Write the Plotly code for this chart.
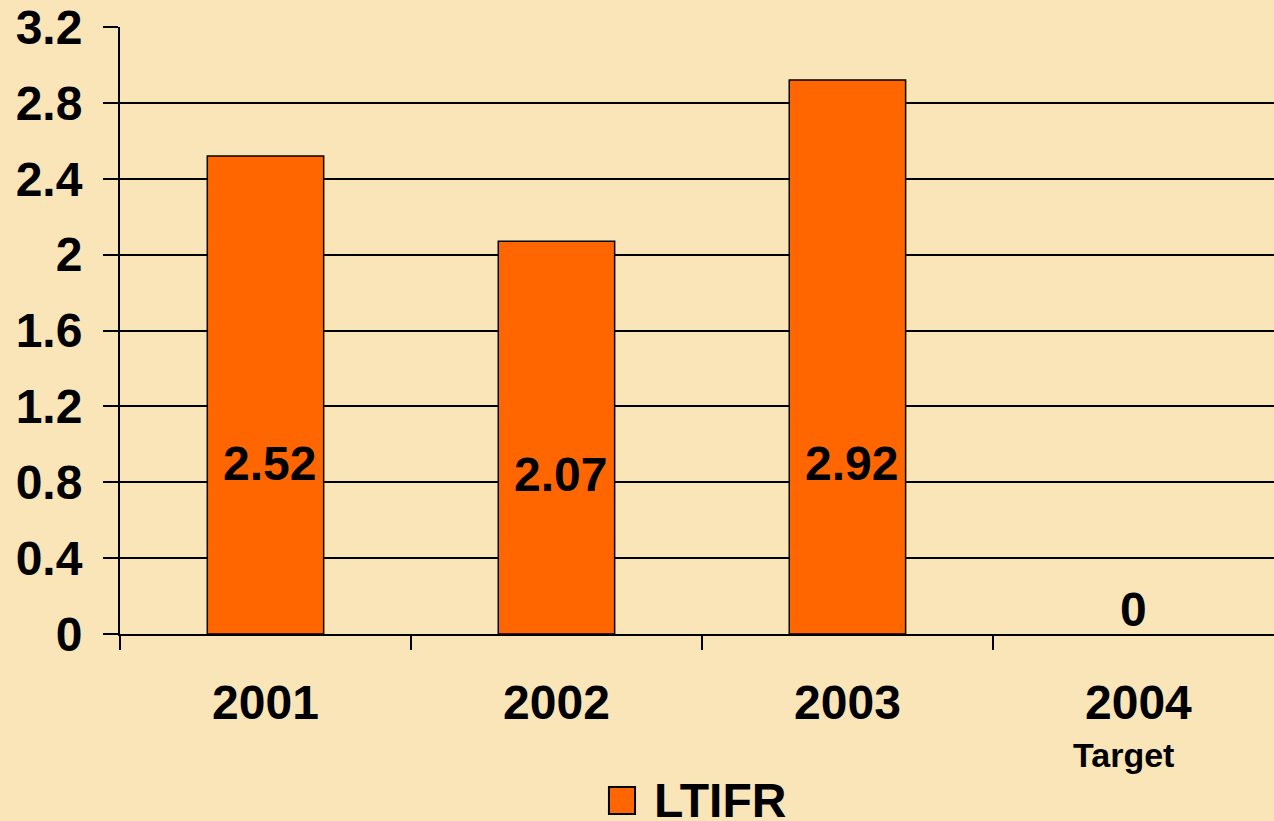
import plotly.graph_objects as go

# ── data ──────────────────────────────────────────────
years = ["2001", "2002", "2003", "2004"]
ltifr = [2.52, 2.07, 2.92, 0]
y_ticks = [0, 0.4, 0.8, 1.2, 1.6, 2, 2.4, 2.8, 3.2]
y_tick_text = ["0", "0.4", "0.8", "1.2", "1.6", "2", "2.4", "2.8", "3.2"]
series_name = "LTIFR"

# ── style ─────────────────────────────────────────────
BG = "#F9E5B8"
ORANGE = "#FF6600"
FONT = "Liberation Sans, Arial, sans-serif"
# where the value labels sit (data units + small x nudge), as in the original slide
label_y = [0.90, 0.84, 0.90, 0.13]
label_dx = [4, 4, 4, -5]

fig = go.Figure()

fig.add_trace(go.Bar(
    x=years, y=ltifr,
    width=0.4,
    marker=dict(
        color=ORANGE,
        # no outline on an empty bar, it would just be a stray line on the axis
        line=dict(color="black", width=[1.5 if v else 0 for v in ltifr]),
    ),
    name=series_name,
    showlegend=False,
))

# value labels (category axis -> use the category index for x)
for i, (v, ly, dx) in enumerate(zip(ltifr, label_y, label_dx)):
    fig.add_annotation(
        x=i, y=ly, text=f"{v:g}",
        showarrow=False, xshift=dx,
        font=dict(family=FONT, size=48, color="black", weight="bold"),
    )

# "Target" under the 2004 tick
fig.add_annotation(
    x=len(years) - 1, y=-0.199, yref="paper", text="Target", xshift=-15,
    showarrow=False, yanchor="middle",
    font=dict(family=FONT, size=34, color="black", weight="bold"),
)

# hand-made legend (big square + label)
fig.add_shape(
    type="rect", xref="paper", yref="paper",
    x0=0.4237, x1=0.4463, y0=-0.2965, y1=-0.252,
    fillcolor=ORANGE, line=dict(color="black", width=2),
)
fig.add_annotation(
    x=0.461, y=-0.2735, xref="paper", yref="paper",
    text=series_name, showarrow=False, xanchor="left", yanchor="middle",
    font=dict(family=FONT, size=48, color="black", weight="bold"),
)

fig.update_layout(
    width=1274, height=821,
    margin=dict(l=120, r=0, t=27, b=187),
    paper_bgcolor=BG, plot_bgcolor=BG,
    showlegend=False,
    font=dict(family=FONT, size=48, color="black", weight="bold"),
    xaxis=dict(
        type="category",
        range=[-0.5, 3.466],
        tickson="boundaries",
        ticks="outside", ticklen=14, tickwidth=1.5, tickcolor="black",
        showgrid=False, showline=True, linecolor="black", linewidth=2,
        ticklabelstandoff=25,
        tickfont=dict(family=FONT, size=48, color="black", weight="bold"),
    ),
    yaxis=dict(
        range=[0, 3.2],
        tickvals=y_ticks, ticktext=y_tick_text,
        ticks="outside", ticklen=15, tickwidth=1.5, tickcolor="black",
        showgrid=True, gridcolor="black", gridwidth=1.5,
        showline=True, linecolor="black", linewidth=2,
        zeroline=False,
        ticklabelstandoff=11,
        tickfont=dict(family=FONT, size=48, color="black", weight="bold"),
    ),
)

# page body has a default 8px margin; drop it so the figure fills the window
fig.write_html(
    "out.html",
    config={"displayModeBar": False},
    post_script="document.body.style.margin='0';",
)
